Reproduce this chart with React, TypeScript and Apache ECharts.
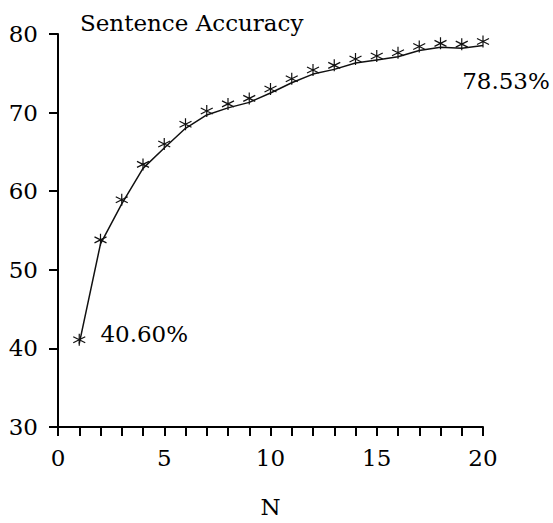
import React, { useEffect, useRef } from "react";
import * as echarts from "echarts";

const nValues: number[] = [1, 2, 3, 4, 5, 6, 7, 8, 9, 10, 11, 12, 13, 14, 15, 16, 17, 18, 19, 20];
const accuracy: number[] = [40.6, 53.3, 58.4, 62.9, 65.5, 68.0, 69.7, 70.6, 71.3, 72.5, 73.8, 74.9, 75.5, 76.3, 76.7, 77.1, 77.9, 78.3, 78.2, 78.53];
const titleText = "Sentence Accuracy";
const xAxisName = "N";

const FONT = "DejaVu Serif";
const FS = 23;
const ASTERISK = "path://M0,-6L0,6M-5.2,-3L5.2,3M-5.2,3L5.2,-3";

export default function App() {
  const ref = useRef<HTMLDivElement>(null);
  useEffect(() => {
    if (!ref.current) return;
    const chart = echarts.init(ref.current, null, { renderer: "svg" });
    const last = nValues.length - 1;
    const data = nValues.map((n, i) => {
      const item: any = { value: [n, accuracy[i]] };
      if (i === 0) {
        item.label = {
          show: true,
          position: "inside",
          offset: [65, -6],
          formatter: (p: any) => p.value[1].toFixed(2) + "%",
        };
      } else if (i === last) {
        item.label = {
          show: true,
          position: "inside",
          offset: [23, 39],
          formatter: (p: any) => p.value[1].toFixed(2) + "%",
        };
      }
      return item;
    });
    chart.setOption({
      animation: false,
      backgroundColor: "#fff",
      textStyle: { fontFamily: FONT },
      title: {
        text: titleText,
        left: 75,
        top: 6,
        textStyle: { fontFamily: FONT, fontSize: FS, fontWeight: "normal", color: "#000" },
      },
      grid: { left: 58, right: 70, top: 34, bottom: 90, containLabel: false },
      xAxis: {
        type: "value",
        min: 0,
        max: 20,
        interval: 5,
        name: xAxisName,
        nameLocation: "middle",
        nameGap: 68,
        nameTextStyle: { fontFamily: FONT, fontSize: FS, color: "#000" },
        axisLine: { show: true, lineStyle: { color: "#000", width: 2 } },
        axisTick: { show: true, inside: false, length: 9, lineStyle: { color: "#000", width: 2 } },
        minorTick: { show: true, splitNumber: 5, length: 9, lineStyle: { color: "#000", width: 2 } },
        axisLabel: { fontFamily: FONT, fontSize: FS, color: "#000", margin: 19 },
        splitLine: { show: false },
        minorSplitLine: { show: false },
      },
      yAxis: {
        type: "value",
        min: 30,
        max: 80,
        interval: 10,
        axisLine: { show: true, lineStyle: { color: "#000", width: 2 } },
        axisTick: { show: true, inside: false, length: 9, lineStyle: { color: "#000", width: 2 } },
        axisLabel: { fontFamily: FONT, fontSize: FS, color: "#000", margin: 20 },
        splitLine: { show: false },
      },
      series: [
        {
          type: "line",
          data,
          symbol: ASTERISK,
          symbolSize: 12,
          symbolOffset: [0, -4],
          showAllSymbol: true,
          lineStyle: { color: "#111", width: 1.5 },
          itemStyle: { color: "transparent", borderColor: "#111", borderWidth: 1.2 },
          label: { fontFamily: FONT, fontSize: FS, color: "#000" },
          emphasis: { disabled: true },
        },
      ],
    });
    return () => chart.dispose();
  }, []);
  return (
    <div
      ref={ref}
      style={{ position: "fixed", left: 0, top: 0, width: 553, height: 523 }}
    />
  );
}
